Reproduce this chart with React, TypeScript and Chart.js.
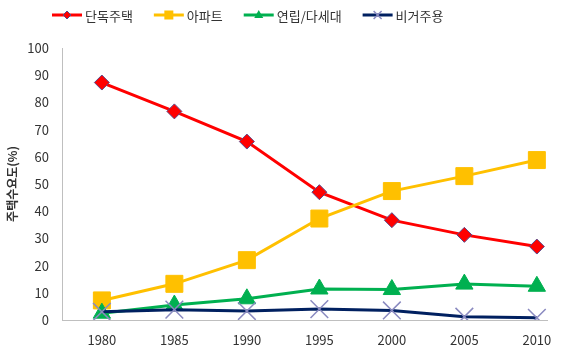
import React, { useEffect, useRef } from 'react';
import { Chart, registerables } from 'chart.js';

Chart.register(...registerables);

const years = [1980, 1985, 1990, 1995, 2000, 2005, 2010];
const detached = [87.3, 76.7, 65.6, 47.0, 36.7, 31.3, 27.0];
const apartment = [7.2, 13.3, 22.0, 37.3, 47.4, 52.9, 58.8];
const multiplex = [2.5, 5.5, 7.8, 11.4, 11.2, 13.2, 12.4];
const nonResidential = [3.0, 3.8, 3.3, 4.0, 3.5, 1.2, 0.8];
const seriesNames = ['단독주택', '아파트', '연립/다세대', '비거주용'];
const yAxisTitle = '주택수요도(%)';

const FONT = '"Noto Sans CJK KR", "Noto Sans", sans-serif';
const TEXT = '#333333';

type Style = { color: string; marker: string; fill: string; stroke: string; lw: number };
const styles: Style[] = [
  { color: '#ff0000', marker: 'diamond', fill: '#ff0000', stroke: '#5a4a8a', lw: 1 },
  { color: '#ffc000', marker: 'square', fill: '#ffc000', stroke: '#ffc000', lw: 1 },
  { color: '#00b050', marker: 'triangle', fill: '#00b050', stroke: '#00b050', lw: 1 },
  { color: '#002060', marker: 'x', fill: '#002060', stroke: '#8a8ac0', lw: 1.5 },
];

function drawMarker(ctx: CanvasRenderingContext2D, kind: string, x: number, y: number, s: number, st: Style) {
  ctx.save();
  ctx.fillStyle = st.fill;
  ctx.strokeStyle = st.stroke;
  ctx.lineWidth = st.lw;
  ctx.beginPath();
  if (kind === 'diamond') {
    ctx.moveTo(x, y - s); ctx.lineTo(x + s, y); ctx.lineTo(x, y + s); ctx.lineTo(x - s, y); ctx.closePath();
    ctx.fill(); ctx.stroke();
  } else if (kind === 'square') {
    ctx.rect(x - s, y - s, 2 * s, 2 * s); ctx.fill();
  } else if (kind === 'triangle') {
    ctx.moveTo(x, y - s); ctx.lineTo(x + s * 0.9, y + s * 0.6); ctx.lineTo(x - s * 0.9, y + s * 0.6); ctx.closePath();
    ctx.fill();
  } else {
    ctx.moveTo(x - s, y - s); ctx.lineTo(x + s, y + s); ctx.moveTo(x + s, y - s); ctx.lineTo(x - s, y + s);
    ctx.stroke();
  }
  ctx.restore();
}

const legendPlugin = {
  id: 'customLegend',
  afterDraw(chart: any) {
    const ctx: CanvasRenderingContext2D = chart.ctx;
    const y = 15;
    let x = 52;
    ctx.save();
    ctx.font = `13px ${FONT}`;
    ctx.textBaseline = 'middle';
    seriesNames.forEach((name, i) => {
      const st = styles[i];
      ctx.strokeStyle = st.color;
      ctx.lineWidth = 3;
      ctx.beginPath();
      ctx.moveTo(x, y);
      ctx.lineTo(x + 30, y);
      ctx.stroke();
      const sizes: Record<string, number> = { diamond: 4, square: 4.5, triangle: 5, x: 4 };
      drawMarker(ctx, st.marker, x + 15, y, sizes[st.marker], st);
      ctx.fillStyle = TEXT;
      ctx.fillText(name, x + 33, y + 1);
      const w = ctx.measureText(name).width;
      x += 33 + w + 21;
    });
    ctx.restore();
  },
};

export default function App() {
  const ref = useRef<HTMLCanvasElement>(null);
  useEffect(() => {
    const canvas = ref.current!;
    const mk = (label: string, data: number[], i: number, order: number, ps: string, pr: number) => ({
      label,
      data: years.map((yr, k) => ({ x: yr, y: data[k] })),
      borderColor: styles[i].color,
      backgroundColor: styles[i].fill,
      borderWidth: 3,
      pointStyle: ps,
      pointRadius: pr,
      pointHoverRadius: pr,
      pointBackgroundColor: styles[i].fill,
      pointBorderColor: styles[i].stroke,
      pointBorderWidth: styles[i].lw,
      tension: 0,
      order,
    });
    const chart = new Chart(canvas, {
      type: 'line',
      data: {
        datasets: [
          mk(seriesNames[0], detached, 0, 3, 'rectRot', 7.5),
          mk(seriesNames[1], apartment, 1, 2, 'rect', 12),
          mk(seriesNames[2], multiplex, 2, 1, 'triangle', 10),
          mk(seriesNames[3], nonResidential, 3, 0, 'crossRot', 12.5),
        ] as any,
      },
      options: {
        responsive: false,
        animation: false,
        layout: { padding: { top: 48, right: 15, left: 0, bottom: 0 } },
        plugins: { legend: { display: false }, tooltip: { enabled: false } },
        scales: {
          x: {
            type: 'linear',
            min: 1977.25,
            max: 2010.7,
            grid: { display: false, drawTicks: false },
            border: { display: true, color: '#bfbfbf', width: 1 },
            afterBuildTicks: (axis: any) => {
              axis.ticks = years.map((v) => ({ value: v }));
            },
            afterFit: (scale: any) => {
              scale.height = 31;
              scale.paddingLeft = 0;
              scale.paddingRight = 0;
            },
            ticks: {
              padding: 12,
              color: TEXT,
              font: { family: FONT, size: 13 },
              callback: (v: any) => String(v),
              maxRotation: 0,
              autoSkip: false,
            },
          },
          y: {
            min: 0,
            max: 100,
            grid: { display: false, drawTicks: false },
            border: { display: true, color: '#bfbfbf', width: 1 },
            afterFit: (scale: any) => {
              scale.width = 62;
              scale.paddingTop = 0;
              scale.paddingBottom = 0;
            },
            ticks: {
              stepSize: 10,
              padding: 13,
              color: TEXT,
              font: { family: FONT, size: 13 },
            },
            title: {
              display: true,
              text: yAxisTitle,
              color: TEXT,
              font: { family: FONT, size: 12, weight: 'bold' },
              padding: { top: 5, bottom: 0 },
            },
          },
        },
      },
      plugins: [legendPlugin],
    });
    return () => chart.destroy();
  }, []);
  return (
    <div style={{ position: 'absolute', left: 0, top: 0, width: 562, height: 351, background: '#fff' }}>
      <canvas ref={ref} width={562} height={351} />
    </div>
  );
}
